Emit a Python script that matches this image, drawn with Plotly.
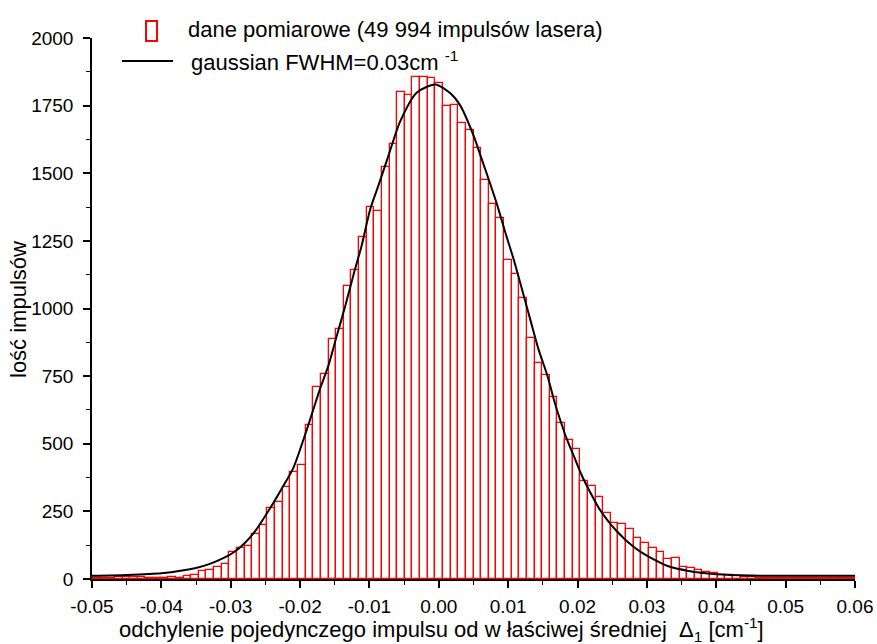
import numpy as np
import plotly.graph_objects as go

# ---------------- data ----------------
bin_start = -0.05
bin_width = 0.0011
counts = [5, 5, 4, 6, 6, 9, 9, 5, 5, 5,
          6, 5, 12, 15, 30, 33, 43, 56, 99, 116,
          121, 167, 200, 262, 284, 341, 396, 423, 568, 711,
          759, 888, 925, 1085, 1142, 1264, 1374, 1360, 1523, 1607,
          1800, 1788, 1857, 1857, 1851, 1833, 1750, 1753, 1684, 1661,
          1593, 1474, 1386, 1335, 1178, 1128, 1040, 891, 798, 755,
          671, 578, 513, 479, 363, 344, 304, 245, 208, 202,
          186, 152, 132, 114, 101, 75, 76, 44, 41, 33,
          25, 24, 16, 13, 10, 7, 6, 5, 5, 4,
          4, 3, 3, 2, 3, 2, 2, 3, 2, 2]

curve_x = [-0.050, -0.045, -0.040, -0.037, -0.035, -0.033, -0.031, -0.0295, -0.028,
           -0.0265, -0.0248, -0.0224, -0.0210, -0.0190, -0.0171, -0.0159, -0.0147,
           -0.0135, -0.0123, -0.0111, -0.0099, -0.0087, -0.0072, -0.0056, -0.0032,
           -0.0005, 0.0017, 0.0031, 0.0050, 0.0062, 0.0072, 0.0084, 0.0096, 0.0108,
           0.0120, 0.0132, 0.0144, 0.0157, 0.0166, 0.0175, 0.0185, 0.0195, 0.0207,
           0.0219, 0.0231, 0.0243, 0.0255, 0.0267, 0.0279, 0.0291, 0.0303, 0.0330,
           0.0360, 0.0400, 0.0450, 0.0500, 0.0550, 0.0600]
curve_y = [12, 15, 21, 31, 41, 56, 78, 100, 132,
           176, 242, 345, 409, 555, 705, 790, 900,
           1008, 1125, 1235, 1366, 1455, 1570, 1690, 1798,
           1828, 1795, 1750, 1640, 1551, 1477, 1384, 1280, 1181,
           1070, 958, 847, 748, 662, 588, 514, 452, 378,
           317, 261, 218, 181, 150, 123, 100, 82, 48,
           30, 18, 13, 12, 12, 12]

x_tickvals = [-0.05, -0.04, -0.03, -0.02, -0.01, 0.0, 0.01, 0.02, 0.03, 0.04, 0.05, 0.06]
x_ticktext = ["-0.05", "-0.04", "-0.03", "-0.02", "-0.01", "0.00",
              "0.01", "0.02", "0.03", "0.04", "0.05", "0.06"]
x_minor = [-0.045, -0.035, -0.025, -0.015, -0.005, 0.005, 0.015, 0.025, 0.035, 0.045, 0.055]
y_tickvals = [0, 250, 500, 750, 1000, 1250, 1500, 1750, 2000]
y_minor = [125, 375, 625, 875, 1125, 1375, 1625, 1875]

legend_bars = "dane pomiarowe (49 994 impulsów lasera)"
legend_fit = "gaussian FWHM=0.03cm <sup>-1</sup>"
x_title = "odchylenie pojedynczego impulsu od w łaściwej średniej  Δ<sub>1</sub> [cm<sup>-1</sup>]"
y_title = "lość impulsów"

# ---------------- figure ----------------
W, H = 877, 644
ML, MR, MT, MB = 92, 22, 38, 65
PW, PH = W - ML - MR, H - MT - MB


def px_x(p):
    return (p - ML) / PW


def px_y(p):
    return (H - MB - p) / PH


centers = bin_start + bin_width * (np.arange(len(counts)) + 0.5)
FONT = "Liberation Sans, Arial, sans-serif"

fig = go.Figure()
fig.add_trace(go.Bar(x=centers, y=counts, width=bin_width,
                     marker=dict(color="white", line=dict(color="#ff0000", width=1.3)),
                     showlegend=False))
fig.add_trace(go.Scatter(x=curve_x, y=curve_y, mode="lines",
                         line=dict(color="black", width=2, shape="spline", smoothing=0.7),
                         showlegend=False))

fig.update_layout(
    width=W, height=H,
    margin=dict(l=ML, r=MR, t=MT, b=MB, pad=0),
    paper_bgcolor="white", plot_bgcolor="white",
    bargap=0,
    font=dict(family=FONT, color="black", size=19),
    showlegend=False,
)
fig.update_xaxes(range=[-0.05, 0.06], tickmode="array", tickvals=x_tickvals, ticktext=x_ticktext,
                 ticks="outside", ticklen=7, tickwidth=1.5, tickcolor="black",
                 showline=True, linecolor="black", linewidth=1.5, showgrid=False, zeroline=False,
                 tickfont=dict(size=19), ticklabelstandoff=2, automargin=False,
                 minor=dict(tickmode="array", tickvals=x_minor, ticks="outside", ticklen=4,
                            tickwidth=1.2, tickcolor="black", showgrid=False))
fig.update_yaxes(range=[0, 2000], tickmode="array", tickvals=y_tickvals,
                 ticks="outside", ticklen=7, tickwidth=1.5, tickcolor="black",
                 showline=True, linecolor="black", linewidth=1.5, showgrid=False, zeroline=False,
                 tickfont=dict(size=19), ticklabelstandoff=6, automargin=False,
                 minor=dict(tickmode="array", tickvals=y_minor, ticks="outside", ticklen=4,
                            tickwidth=1.2, tickcolor="black", showgrid=False))

# legend (drawn manually)
fig.add_shape(type="rect", xref="paper", yref="paper",
              x0=px_x(146), x1=px_x(157), y0=px_y(41), y1=px_y(21),
              line=dict(color="#ff0000", width=2), fillcolor="white")
fig.add_shape(type="line", xref="paper", yref="paper",
              x0=px_x(122), x1=px_x(173), y0=px_y(61), y1=px_y(61),
              line=dict(color="black", width=2))
fig.add_annotation(text=legend_bars, xref="paper", yref="paper", x=px_x(186), y=px_y(29),
                   xanchor="left", yanchor="middle", showarrow=False, font=dict(size=22))
fig.add_annotation(text=legend_fit, xref="paper", yref="paper", x=px_x(189), y=px_y(61),
                   xanchor="left", yanchor="middle", showarrow=False, font=dict(size=22))

# axis titles
fig.add_annotation(text=x_title, xref="paper", yref="paper", x=px_x(117), y=px_y(629),
                   xanchor="left", yanchor="middle", showarrow=False, font=dict(size=22))
fig.add_annotation(text=y_title, xref="paper", yref="paper", x=px_x(19), y=px_y(310),
                   xanchor="center", yanchor="middle", textangle=-90, showarrow=False,
                   font=dict(size=22))

fig.write_html("out.html", config={"displayModeBar": False},
               post_script="document.body.style.margin='0';document.body.style.overflow='hidden';")
